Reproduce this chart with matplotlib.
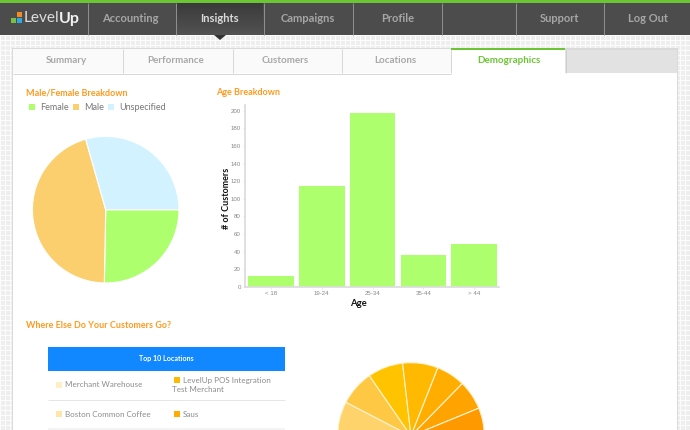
import matplotlib
matplotlib.use('Agg')
import matplotlib.pyplot as plt
from matplotlib.patches import Rectangle, Polygon
import numpy as np

W, H = 690, 430

# data
nav_items = ['Accounting', 'Insights', 'Campaigns', 'Profile', 'Support', 'Log Out']
tab_items = ['Summary', 'Performance', 'Customers', 'Locations', 'Demographics']

gender_labels = ['Female', 'Male', 'Unspecified']
gender_values = [25.3, 45.3, 29.4]
gender_colors = ['#AEFF6E', '#FCCF6E', '#D2F2FF']

age_labels = ['< 18', '19-24', '25-34', '35-44', '> 44']
age_values = [12, 114, 197, 36, 48]
age_ticks = list(range(0, 201, 20))

# top 10 locations, shares read as degrees of the circle
location_values = [80, 57, 40, 30.4, 28, 28, 28.1, 22.9, 23.3, 22.3]
location_colors = ['#FFEFC6', '#FFE6A8', '#FFDD8A', '#FFD36B', '#FFC844',
                   '#FFC300', '#FFB900', '#FFAE00', '#FFA300', '#FF9900']
table_rows = [('Merchant Warehouse', 0, 'LevelUp POS Integration', 6),
              ('Boston Common Coffee', 1, 'Saus', 7)]

BODY = 'Lato'
GREEN = '#6CC534'
ORANGE = '#FF9A1F'

fig = plt.figure(figsize=(W / 100, H / 100), dpi=100)
bg = fig.add_axes([0, 0, 1, 1])
bg.set_xlim(0, W)
bg.set_ylim(H, 0)
bg.axis('off')


def rect(x0, y0, x1, y1, color, z=1):
    bg.add_patch(Rectangle((x0, y0), x1 - x0, y1 - y0, fc=color, ec='none', zorder=z))


def vline(x, y0, y1, color, lw=1.0, z=3):
    bg.plot([x, x], [y0, y1], color=color, lw=lw * 0.72, zorder=z, solid_capstyle='butt')


def hline(y, x0, x1, color, lw=1.0, z=3):
    bg.plot([x0, x1], [y, y], color=color, lw=lw * 0.72, zorder=z, solid_capstyle='butt')


# tiled page background
tile = np.full((H, W), 0.93)
tile[:, ::5] = 0.985
tile[::5, :] = 0.985
bg.imshow(tile, cmap='gray', vmin=0, vmax=1, extent=(0, W, H, 0), zorder=0,
          interpolation='nearest', aspect='auto')

# top bar
rect(0, 0, W, 35, '#4C4C4C')
rect(0, 0, W, 3, GREEN, 4)
grad = np.linspace(0.23, 0.32, 32).reshape(-1, 1)
bg.imshow(grad, cmap='gray', vmin=0, vmax=1, extent=(176, 263, 35, 3), zorder=2, aspect='auto')
bg.set_xlim(0, W)
bg.set_ylim(H, 0)
for x in [87.5, 175.5, 263.5, 352.5, 441.5, 515.5, 603.5]:
    vline(x, 3, 35, '#8E8E8E')
bg.add_patch(Polygon([[214, 35], [226, 35], [220, 40]], fc='#333333', ec='none', zorder=4))

nav_x = [130, 219.5, 308, 397.5, 560, 648.5]
for name, x in zip(nav_items, nav_x):
    col = '#DADADA' if name == 'Insights' else '#A6A6A6'
    bg.text(x, 18.5, name, ha='center', va='center', family=BODY, weight='bold',
            fontsize=8, color=col, zorder=5)

# logo
rect(11, 18, 16, 23, '#7AC143', 5)
rect(17, 12, 22, 17, '#F58A1F', 5)
rect(17, 18, 22, 23, '#2BA9E1', 5)
bg.text(24, 18.5, 'Level', ha='left', va='center', family='Lato',
        fontsize=11.1, color='#DDDDDD', zorder=5)
bg.text(58.8, 18.5, 'Up', ha='left', va='center', family='Lato', weight='bold',
        fontsize=11.5, color='#F2F2F2', zorder=5)

# panel and tabs
rect(12, 48, 678, H + 2, '#DADADA', 1)
rect(13, 73, 677, H + 2, 'white', 2)
rect(13, 49, 451, 73, '#FAFAFA', 2)
rect(565, 50, 677, 73, '#E2E2E2', 2)
rect(451, 50, 565, 74, 'white', 3)
rect(451, 48, 565, 50, GREEN, 4)
hline(73.5, 13, 451, '#D8D8D8')
for x in [122.5, 232.5, 341.5, 451]:
    vline(x, 49, 73, '#D8D8D8')
vline(565.5, 50, 73, '#CFCFCF')

tab_x = [66, 175.5, 285.5, 395, 508.5]
for name, x in zip(tab_items, tab_x):
    col = GREEN if name == 'Demographics' else '#A8A8A8'
    bg.text(x, 60.5, name, ha='center', va='center', family=BODY, weight='bold',
            fontsize=7.15, color=col, zorder=5)

# section headings
for txt, x, y in [('Male/Female Breakdown', 26.5, 92.5), ('Age Breakdown', 216, 92.5),
                  ('Where Else Do Your Customers Go?', 26.5, 326)]:
    bg.text(x, y, txt, ha='left', va='center', family=BODY, weight='bold',
            fontsize=6.45, color=ORANGE, zorder=5)

# gender legend
for name, col, sx, tx in zip(gender_labels, gender_colors, [29, 73, 108], [40, 84.5, 119]):
    rect(sx, 104, sx + 6, 110, col, 5)
    bg.text(tx, 107.3, name, ha='left', va='center', family=BODY, fontsize=6.5,
            color='#777777', zorder=5)


def pixel_axes(x0, y0, x1, y1):
    return fig.add_axes([x0 / W, 1 - y1 / H, (x1 - x0) / W, (y1 - y0) / H])


# gender pie
cx, cy, r = 105.7, 209.7, 73.3
ax1 = pixel_axes(cx - r, cy - r, cx + r, cy + r)
ax1.pie(gender_values, colors=gender_colors, startangle=0, counterclock=False, radius=1,
        wedgeprops={'edgecolor': 'white', 'linewidth': 0.8})
ax1.set_xlim(-1, 1)
ax1.set_ylim(-1, 1)

# age bars
ax2 = pixel_axes(245, 105, 499, 286.7)
ax2.patch.set_alpha(0)
ax2.bar(range(len(age_values)), age_values, width=0.9, color='#AEFF6E')
ax2.set_xlim(-0.505, 4.485)
ax2.set_ylim(0, 206.5)
ax2.set_xticks(range(len(age_labels)), age_labels)
ax2.set_yticks(age_ticks)
ax2.tick_params(labelsize=4.4, color='#DDDDDD', labelcolor='#888888', length=1.5, width=0.5, pad=1.5)
for lab in ax2.get_xticklabels() + ax2.get_yticklabels():
    lab.set_family('Liberation Sans')
for side in ['top', 'right']:
    ax2.spines[side].set_visible(False)
for side in ['left', 'bottom']:
    ax2.spines[side].set_color('#DDDDDD')
    ax2.spines[side].set_linewidth(1.3)
bg.text(358, 303.8, 'Age', ha='center', va='center', family=BODY, weight='bold',
        fontsize=6.8, color='#111111', zorder=5)
bg.text(226.5, 198, '# of Customers', ha='center', va='center', rotation=90, family=BODY,
        weight='bold', fontsize=6.5, color='#111111', zorder=5)

# table
rect(48, 347, 285, 370.5, '#1188FF', 5)
bg.text(166, 358.3, 'Top 10 Locations', ha='center', va='center', family=BODY, weight='bold',
        fontsize=5.15, color='white', zorder=6)
hline(399.5, 48, 285, '#E6E6E6')
rect(48, 428, 285, H, '#F4F4F4', 3)
row_y = [384.5, 414]
for (left, li, right, ri), y in zip(table_rows, row_y):
    rect(55.5, y - 3, 61.5, y + 3, location_colors[li], 5)
    bg.text(65, y + 0.3, left, ha='left', va='center', family=BODY, fontsize=5.8,
            color='#8C8C8C', zorder=5)
    sq_y = y - 4.5 if right.startswith('LevelUp') else y
    rect(174, sq_y - 3, 180, sq_y + 3, location_colors[ri], 5)
    bg.text(183, sq_y + 0.3, right, ha='left', va='center', family=BODY, fontsize=5.8,
            color='#8C8C8C', zorder=5)
bg.text(171.5, 389, 'Test Merchant', ha='left', va='center', family=BODY, fontsize=5.8,
        color='#8C8C8C', zorder=5)

# locations pie, cut off by the bottom of the page
cx, cy, r = 411, 436, 73.3
ax3 = pixel_axes(cx - r, cy - r, cx + r, cy + r)
ax3.pie(location_values, colors=location_colors, startangle=0, counterclock=False, radius=1,
        wedgeprops={'edgecolor': '#FFF3D0', 'linewidth': 0.8})
ax3.set_xlim(-1, 1)
ax3.set_ylim(-1, 1)

fig.savefig('out.png', dpi=100)
